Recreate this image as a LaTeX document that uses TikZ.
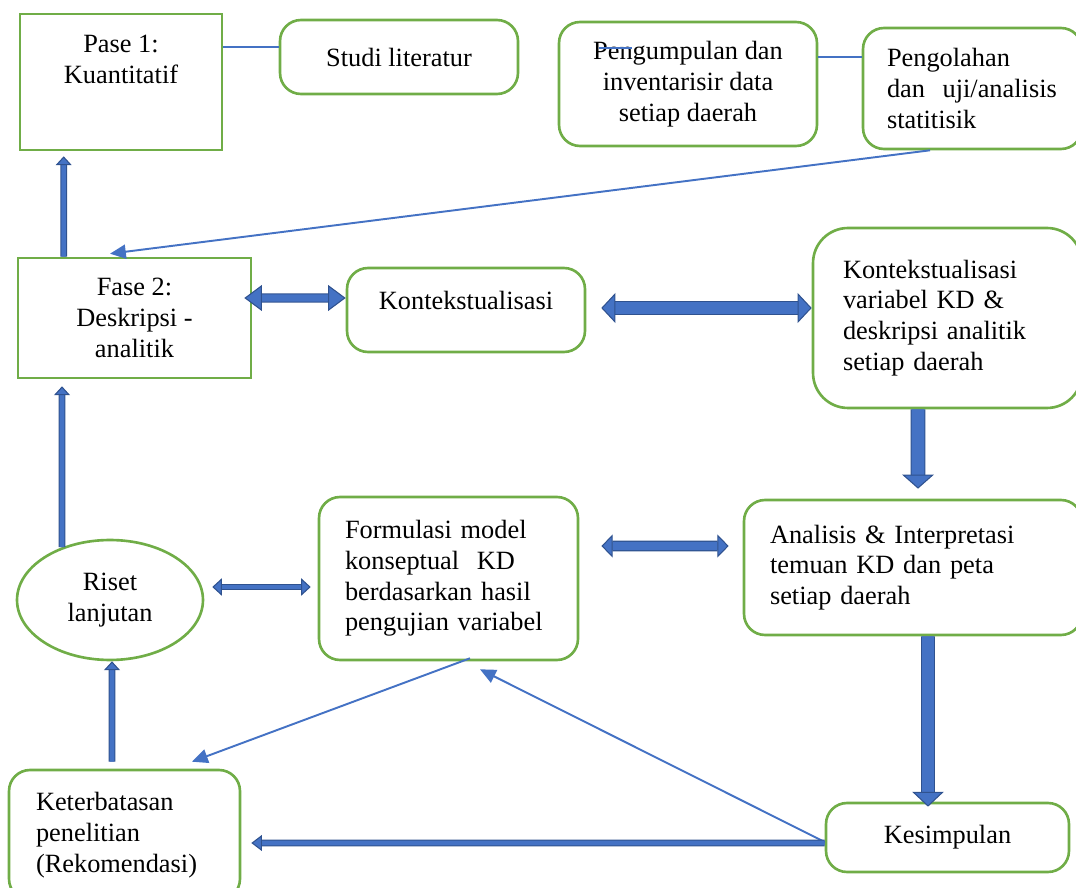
\documentclass[tikz,border=0pt]{standalone}
\usepackage{fontspec}
\setmainfont{Liberation Serif}
\usetikzlibrary{positioning, arrows.meta, shapes.geometric}
\definecolor{boxgreen}{HTML}{70AD47}
\definecolor{arrowblue}{HTML}{4472C4}
\definecolor{arrowedge}{HTML}{2F528F}

\begin{document}
\begin{tikzpicture}[
        x=0.02cm, y=-0.02cm,
        every node/.style={font=\fontsize{15pt}{17.5pt}\selectfont},
        square/.style={draw=boxgreen, line width=1.5pt, align=center, inner sep=0pt},
        rbox/.style={square, rounded corners=0.42cm},
        lbox/.style={rbox, align=left},
        oval/.style={draw=boxgreen, line width=1.5pt, ellipse, align=center, inner sep=0pt},
        link/.style={draw=arrowblue, line width=0.6pt},
        thinarrow/.style={draw=arrowblue, line width=1.1pt, -{Triangle[length=9pt, width=8pt]}},
        fat/.style n args={3}{draw=arrowedge, line width=0.6pt, double=arrowblue, double distance=#1,
            >={Triangle[length=#2, width=#3, fill=arrowblue, line width=0.6pt]}}
    ]
    \useasboundingbox (0,0) rectangle (1076,888);
    \clip (0,0) rectangle (1076,888);

    % Top row
    \node[square, minimum width=4.04cm, minimum height=2.72cm] (pase1) at (121,82) {};
    \node[anchor=north, inner sep=0pt, align=center] (pase1txt) at ([yshift=-0.45cm]pase1.north) {Pase 1:\\Kuantitatif};
    \node[rbox, minimum width=4.76cm, minimum height=1.48cm] (studi) at (399,57) {Studi literatur};
    \node[rbox, minimum width=5.16cm, minimum height=2.48cm] (kumpul) at (688,84) {Pengumpulan dan\\inventarisir data\\setiap daerah};
    \node[lbox, text width=3.42cm, inner xsep=0.48cm, minimum height=2.42cm] (olah) at (972.5,88.5) {Pengolahan\\dan~ uji/analisis\\statitisik};

    % Middle rows
    \node[square, minimum width=4.66cm, minimum height=2.4cm] (fase2) at (134.5,318) {Fase 2:\\Deskripsi -\\analitik};
    \node[rbox, minimum width=4.76cm, minimum height=1.68cm] (konteks) at (466,310) {};
    \node[inner sep=0pt] (kontekstxt) at ([yshift=0.2cm]konteks.center) {Kontekstualisasi};
    \node[lbox, rounded corners=0.7cm, text width=4.18cm, inner xsep=0.6cm, minimum height=3.6cm] (kv) at (947.5,318) {Kontekstualisasi\\variabel KD \&\\deskripsi analitik\\setiap daerah};
    \node[lbox, text width=5.72cm, inner xsep=0.52cm, minimum height=2.7cm] (analisis) at (913,567.5) {Analisis \& Interpretasi\\temuan KD dan peta\\setiap daerah};
    \node[lbox, text width=4.14cm, inner xsep=0.52cm, minimum height=3.26cm] (formulasi) at (448.5,578.5) {Formulasi model\\konseptual~ KD\\berdasarkan hasil\\pengujian variabel};
    \node[oval, minimum width=3.72cm, minimum height=2.4cm] (riset) at (110,600) {Riset\\lanjutan};

    % Bottom row
    \node[lbox, text width=3.54cm, inner xsep=0.54cm, minimum height=2.6cm] (keterbatasan) at (124.5,835) {Keterbatasan\\penelitian\\(Rekomendasi)};
    \node[rbox, minimum width=4.86cm, minimum height=1.38cm] (kesimpulan) at (947.5,837.5) {Kesimpulan};

    % Thin connectors
    \draw[link] ([yshift=0.2cm]pase1.east |- studi.west) -- ([yshift=0.2cm]studi.west);
    \draw[link] ([yshift=0.63cm]kumpul.east |- olah.west) -- ([yshift=0.63cm]olah.west);
    \draw[link] ([shift={(-1.78cm,0.72cm)}]kumpul.center) -- ([shift={(-1.12cm,0.72cm)}]kumpul.center);
    \draw[thinarrow] ([xshift=-0.85cm]olah.south) -- ([xshift=-0.49cm, yshift=0.06cm]fase2.north);
    \draw[thinarrow] ([xshift=0.43cm, yshift=0.06cm]formulasi.south) -- ([xshift=1.35cm, yshift=0.14cm]keterbatasan.north);
    \draw[thinarrow] ([yshift=-0.09cm]kesimpulan.west) -- ([xshift=0.63cm, yshift=-0.16cm]formulasi.south);

    % Block arrows
    \draw[fat={2.6pt}{5pt}{9pt}, ->] ([xshift=0.94cm]fase2.north west) -- ([xshift=0.9cm, yshift=-0.1cm]pase1.south west);
    \draw[fat={4pt}{10pt}{14.7pt}, <->] ([xshift=-0.16cm, yshift=0.4cm]fase2.east) -- ([yshift=0.24cm]konteks.west);
    \draw[fat={6.7pt}{8pt}{17pt}, <->] ([xshift=0.3cm, yshift=0.04cm]konteks.east) -- ([yshift=0.2cm]kv.west);
    \draw[fat={7.3pt}{8pt}{18pt}, ->] ([xshift=-0.59cm]kv.south) -- ([xshift=0.1cm, yshift=0.2cm]analisis.north);
    \draw[fat={4.8pt}{6.5pt}{13pt}, <->] ([xshift=0.44cm, yshift=0.65cm]formulasi.east) -- ([xshift=-0.28cm, yshift=0.43cm]analisis.west);
    \draw[fat={2.2pt}{5.5pt}{10pt}, <->] ([xshift=0.16cm, yshift=0.26cm]riset.east) -- ([xshift=-0.14cm, yshift=-0.17cm]formulasi.west);
    \draw[fat={2.6pt}{5pt}{9pt}, ->] ([shift={(-0.96cm,-0.17cm)}]riset.north) -- ([xshift=-1.45cm, yshift=-0.14cm]fase2.south);
    \draw[fat={2.6pt}{5pt}{9pt}, ->] ([xshift=-0.25cm, yshift=0.14cm]keterbatasan.north) -- ([xshift=0.04cm]riset.south);
    \draw[fat={6.7pt}{8.5pt}{18pt}, ->] ([xshift=0.3cm]analisis.south) -- ([xshift=-0.39cm, yshift=-0.1cm]kesimpulan.north);
    \draw[fat={2.6pt}{6pt}{9pt}, ->] ([yshift=-0.11cm]kesimpulan.west) -- ([xshift=0.2cm, yshift=-0.16cm]keterbatasan.east);

\end{tikzpicture}
\end{document}
